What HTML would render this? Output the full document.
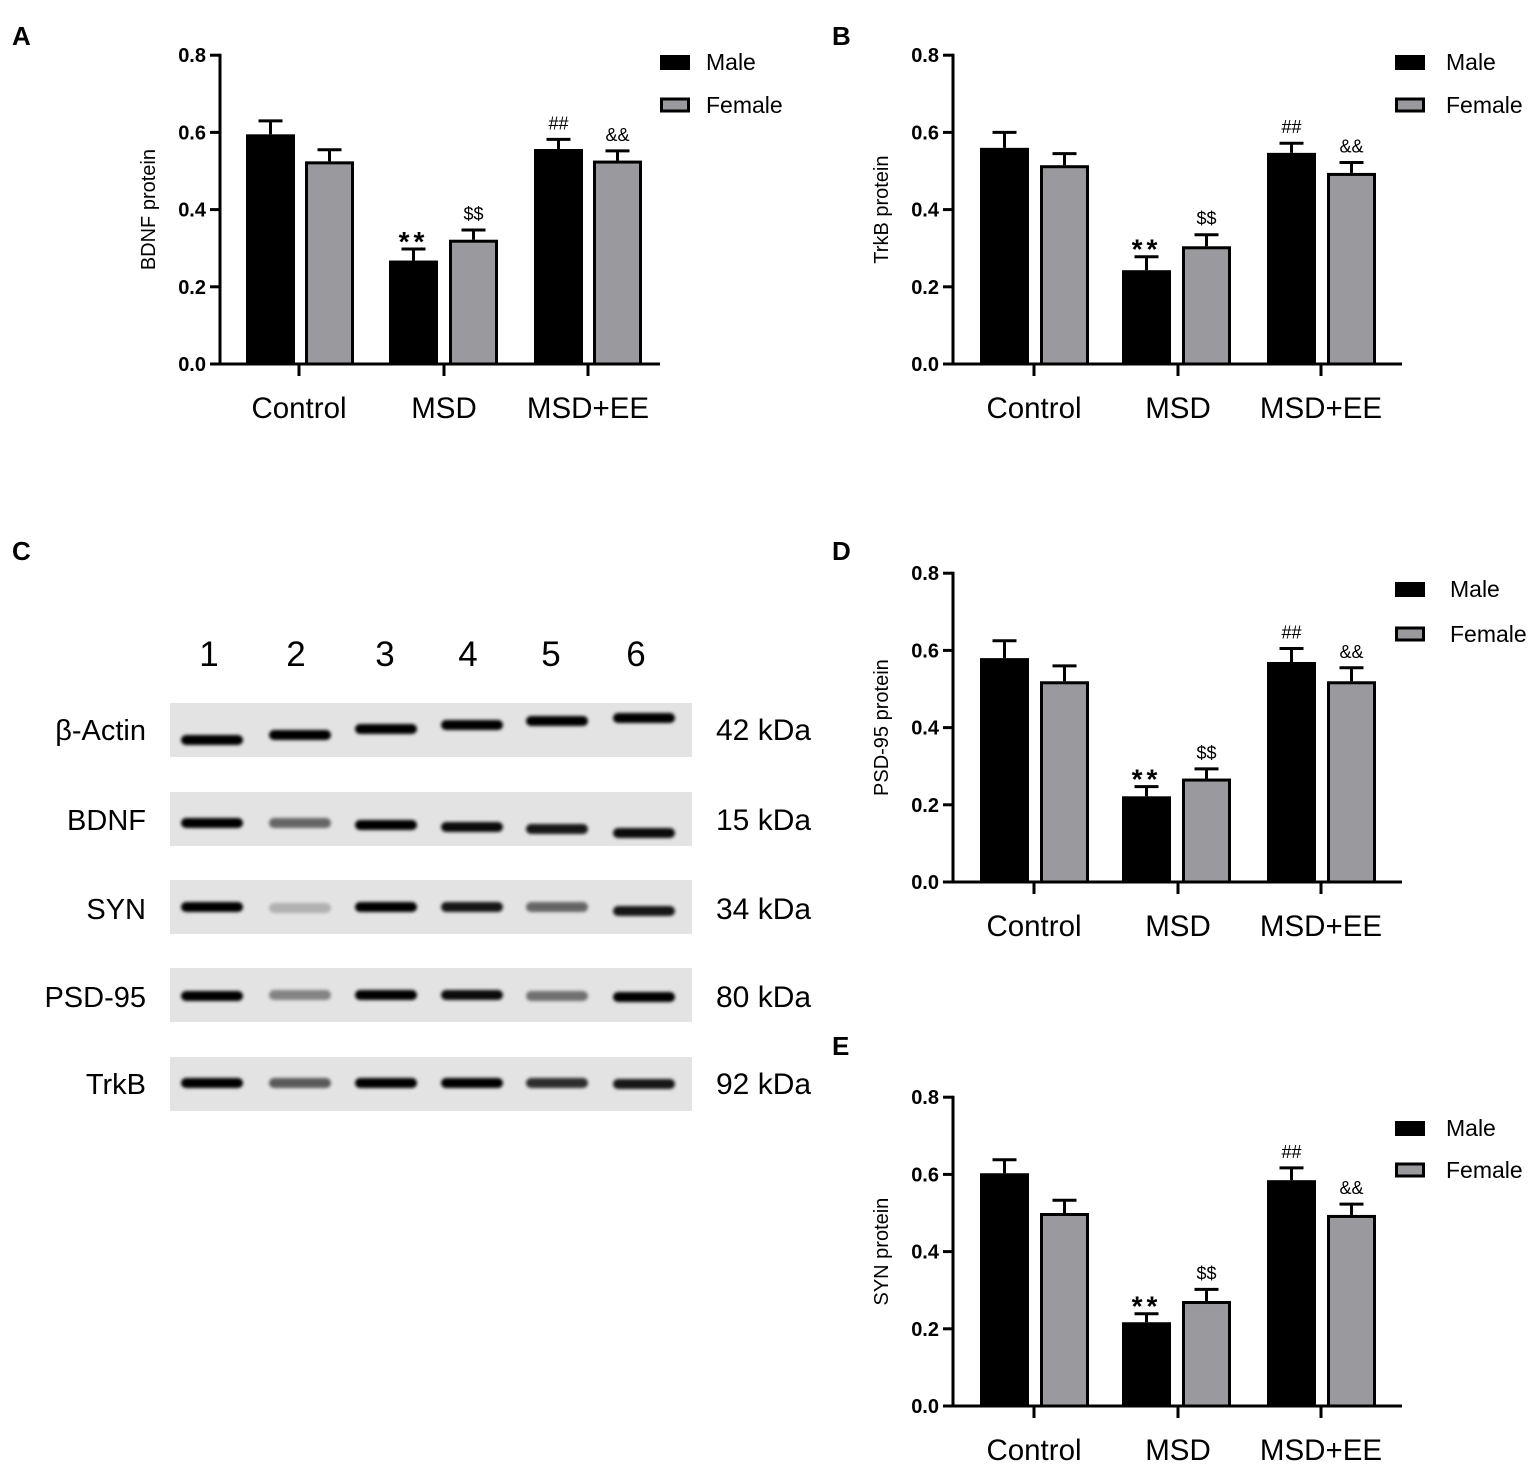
<!DOCTYPE html>
<html><head><meta charset="utf-8"><style>
html,body{margin:0;padding:0;background:#fff}
svg{display:block;font-family:"Liberation Sans",Arial,sans-serif}
</style></head><body>
<svg id="s" width="1535" height="1465" viewBox="0 0 1535 1465" xmlns="http://www.w3.org/2000/svg">
<defs><filter id="bl" x="-20%" y="-100%" width="140%" height="300%"><feGaussianBlur stdDeviation="1.6"/></filter></defs>
</svg>
<script>
const s=document.getElementById('s');let h='';
function bar(o){
 const {ax,y0,bars,ticks,xend,ylab,ylx,vals,marks,leg}=o;
 const k=38.6; const Y=v=>y0-v*k/0.1;
 for(let i=0;i<=4;i++){const v=i*0.2,y=Y(v);
  h+=`<line x1="${ax-10}" y1="${y}" x2="${ax}" y2="${y}" stroke="#000" stroke-width="3"/>`;
  h+=`<text x="${ax-14}" y="${y+7}" font-size="20" font-weight="bold" text-anchor="end">${v.toFixed(1)}</text>`;}
 h+=`<line x1="${ax}" y1="${Y(0.8)-1.5}" x2="${ax}" y2="${y0}" stroke="#000" stroke-width="3"/>`;
 h+=`<text transform="translate(${ylx},${(y0+Y(0.8))/2}) rotate(-90)" font-size="20" text-anchor="middle">${ylab}</text>`;
 bars.forEach((b,i)=>{const [m,e]=vals[i];const yt=Y(m),ye=Y(m+e);const cx=(b[0]+b[1])/2;
  h+=`<line x1="${cx}" y1="${ye}" x2="${cx}" y2="${yt}" stroke="#000" stroke-width="3"/>`;
  h+=`<line x1="${cx-12}" y1="${ye}" x2="${cx+12}" y2="${ye}" stroke="#000" stroke-width="3"/>`;
  h+=`<rect x="${b[0]+1.5}" y="${yt+1.5}" width="${b[1]-b[0]-3}" height="${y0-yt-1.5}" fill="${i%2?'#9a9a9e':'#000'}" stroke="#000" stroke-width="3"/>`;
  if(marks[i]){const t=marks[i];
   if(t=='**') h+=`<text x="${cx}" y="${ye+2}" font-size="28" font-weight="bold" text-anchor="middle" letter-spacing="4">**</text>`;
   else h+=`<text x="${cx}" y="${ye-10}" font-size="18" text-anchor="middle">${t}</text>`;}
 });
 h+=`<line x1="${ax}" y1="${y0}" x2="${xend}" y2="${y0}" stroke="#000" stroke-width="3"/>`;
 ['Control','MSD','MSD+EE'].forEach((t,i)=>{h+=`<line x1="${ticks[i]}" y1="${y0}" x2="${ticks[i]}" y2="${y0+12}" stroke="#000" stroke-width="3"/>`;
  h+=`<text x="${ticks[i]}" y="${y0+54}" font-size="29.5" text-anchor="middle">${t}</text>`;});
 const [lx,ly1,ly2,tx]=leg;
 h+=`<rect x="${lx}" y="${ly1-7}" width="30" height="15" fill="#000"/>`;
 h+=`<rect x="${lx+1.5}" y="${ly2-6}" width="27" height="12" fill="#9a9a9e" stroke="#000" stroke-width="3"/>`;
 h+=`<text x="${tx}" y="${ly1+8}" font-size="23">Male</text><text x="${tx}" y="${ly2+8}" font-size="23">Female</text>`;
}
const marks=[0,0,'**','$$','##','&&'];
const barsA=[[246,295],[305,354],[389,438],[449,498],[534,583],[593,642]];
const barsB=[[980,1029],[1040,1089],[1122,1171],[1182,1231],[1267,1316],[1327,1376]];
bar({ax:220,y0:364,bars:barsA,ticks:[299,444,588],xend:660,ylab:'BDNF protein',ylx:155,
 vals:[[.595,.035],[.525,.03],[.268,.03],[.322,.025],[.557,.025],[.527,.025]],marks,leg:[660,62,105,706]});
bar({ax:953,y0:364,bars:barsB,ticks:[1034,1178,1321],xend:1402,ylab:'TrkB protein',ylx:888,
 vals:[[.56,.04],[.515,.03],[.243,.035],[.305,.03],[.547,.025],[.495,.027]],marks,leg:[1395,62,105,1446]});
bar({ax:953,y0:882,bars:barsB,ticks:[1034,1178,1321],xend:1402,ylab:'PSD-95 protein',ylx:888,
 vals:[[.58,.045],[.52,.04],[.222,.025],[.268,.025],[.57,.035],[.52,.035]],marks,leg:[1395,589,634,1450]});
bar({ax:953,y0:1406,bars:barsB,ticks:[1034,1178,1321],xend:1402,ylab:'SYN protein',ylx:888,
 vals:[[.603,.035],[.50,.033],[.217,.022],[.272,.03],[.585,.032],[.495,.028]],marks,leg:[1395,1128,1170,1446]});
[['A',12,45],['B',832,45],['C',12,560],['D',832,560],['E',832,1055]].forEach(([t,x,y])=>h+=`<text x="${x}" y="${y}" font-size="26" font-weight="bold">${t}</text>`);
const lanes=[212,300,386,472,557,644];
[209,296,385,468,551,636].forEach((x,i)=>h+=`<text x="${x}" y="666" font-size="35" text-anchor="middle">${i+1}</text>`);
const rows=[
 ['β-Actin','42 kDa',703,[740,735,729,725,721,718],[1,1,1,1,1,1],730],
 ['BDNF','15 kDa',792,[823,823,825,827,829,833],[1,.55,1,.95,.9,.95],820],
 ['SYN','34 kDa',880,[907,908,907,907,907,911],[1,.22,1,.9,.55,.9],909],
 ['PSD-95','80 kDa',968,[996,995,995,995,996,997],[1,.42,1,.95,.5,1],997],
 ['TrkB','92 kDa',1057,[1083,1083,1083,1083,1083,1084],[1,.6,1,1,.8,.9],1084]];
rows.forEach(([n,kd,top,ys,op,ty])=>{
 h+=`<rect x="170" y="${top}" width="522" height="54" fill="#e3e3e3"/>`;
 lanes.forEach((x,i)=>{h+=`<rect x="${x-31}" y="${ys[i]-5}" width="62" height="10" rx="5" fill="#000" opacity="${op[i]}" filter="url(#bl)"/>`;});
 h+=`<text x="146" y="${ty+10}" font-size="29" text-anchor="end">${n}</text>`;
 h+=`<text x="716" y="${ty+10}" font-size="30">${kd}</text>`;
});
s.innerHTML+=h;
</script>
</body></html>
